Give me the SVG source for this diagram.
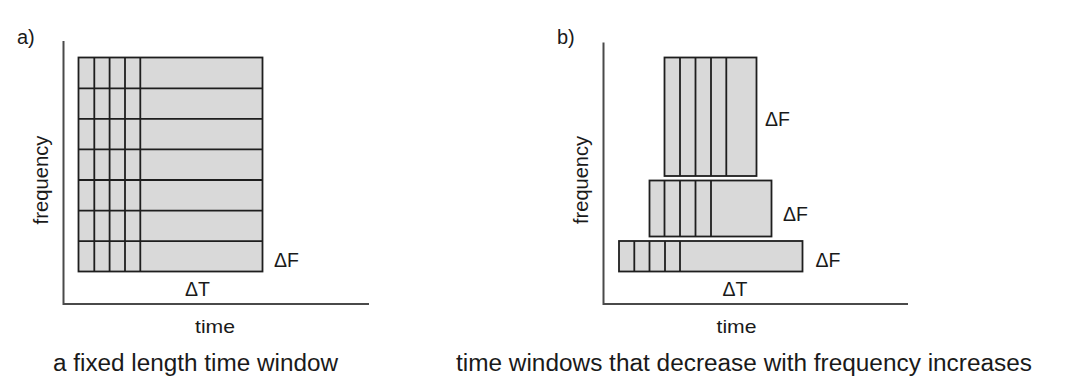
<svg xmlns="http://www.w3.org/2000/svg" width="1070" height="385" viewBox="0 0 1070 385">
<style>
.bg{fill:#ffffff}
.axis{stroke:#4a4a4a;stroke-width:2;fill:none}
.box{fill:#d9d9d9;stroke:#1e1e1e;stroke-width:1.8}
.grid{stroke:#1e1e1e;stroke-width:1.8;fill:none}
.t{font-family:"Liberation Sans",Arial,sans-serif;fill:#1a1a1a}
.lbl{font-size:19.5px}
.ax{font-size:18.5px}
.fq{font-size:20px}
.cap{font-size:23.5px}
.pl{font-size:20px}
</style>
<rect class="bg" x="0" y="0" width="1070" height="385"/>

<g id="panel-a">
  <text class="t pl" x="17" y="43.5">a)</text>
  <g id="axes-a">
    <path class="axis" d="M63.5,41 V304 H369"/>
  </g>
  <g id="grid-a">
    <rect class="box" x="78.5" y="57.5" width="184" height="214"/>
    <path class="grid" d="M78.5,88.3 H262.5 M78.5,118.9 H262.5 M78.5,149.4 H262.5 M78.5,180 H262.5 M78.5,210.6 H262.5 M78.5,241.1 H262.5"/>
    <path class="grid" d="M94.3,57.5 V271.5 M109.6,57.5 V271.5 M125,57.5 V271.5 M140.3,57.5 V271.5"/>
  </g>
  <text class="t lbl" x="274" y="266.5">ΔF</text>
  <text class="t lbl" x="197.5" y="296" text-anchor="middle">ΔT</text>
  <text class="t ax" x="215" y="333" text-anchor="middle" textLength="40" lengthAdjust="spacingAndGlyphs">time</text>
  <text class="t fq" transform="translate(48,180) rotate(-90)" text-anchor="middle" textLength="89" lengthAdjust="spacingAndGlyphs">frequency</text>
  <text class="t cap" x="53" y="371" textLength="285" lengthAdjust="spacingAndGlyphs">a fixed length time window</text>
</g>

<g id="panel-b">
  <text class="t pl" x="557" y="43.5">b)</text>
  <g id="axes-b">
    <path class="axis" d="M603.5,42.5 V304 H908"/>
  </g>
  <g id="window-high">
    <rect class="box" x="664.5" y="57.5" width="92" height="118.5"/>
    <path class="grid" d="M680,57.5 V176 M695.5,57.5 V176 M711,57.5 V176 M726.3,57.5 V176"/>
    <text class="t lbl" x="765" y="126">ΔF</text>
  </g>
  <g id="window-mid">
    <rect class="box" x="649.5" y="180.5" width="122" height="56"/>
    <path class="grid" d="M664.5,180.5 V236.5 M680,180.5 V236.5 M695.5,180.5 V236.5 M711,180.5 V236.5"/>
    <text class="t lbl" x="783" y="221">ΔF</text>
  </g>
  <g id="window-low">
    <rect class="box" x="619" y="241" width="183.5" height="30.5"/>
    <path class="grid" d="M634.3,241 V271.5 M649.5,241 V271.5 M665,241 V271.5 M680,241 V271.5"/>
    <text class="t lbl" x="815.5" y="266.5">ΔF</text>
  </g>
  <text class="t lbl" x="735" y="296" text-anchor="middle">ΔT</text>
  <text class="t ax" x="736.5" y="333" text-anchor="middle" textLength="40" lengthAdjust="spacingAndGlyphs">time</text>
  <text class="t fq" transform="translate(588,180) rotate(-90)" text-anchor="middle" textLength="88" lengthAdjust="spacingAndGlyphs">frequency</text>
  <text class="t cap" x="456" y="371" textLength="576" lengthAdjust="spacingAndGlyphs">time windows that decrease with frequency increases</text>
</g>
</svg>
